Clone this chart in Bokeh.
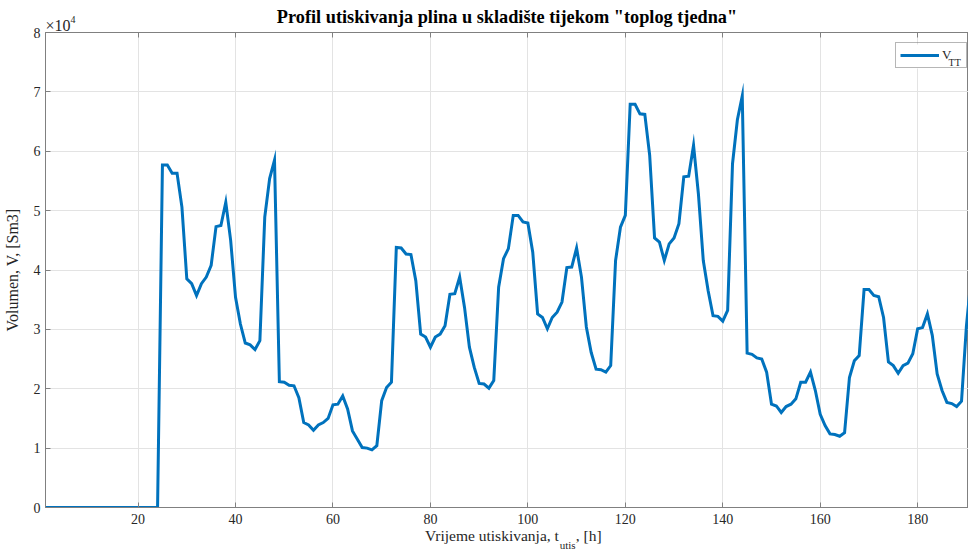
from bokeh.plotting import figure
from bokeh.models import (ColumnDataSource, FixedTicker, LinearAxis, Legend, LegendItem,
                          CustomJSTickFormatter, Range1d, BoxAnnotation)
from bokeh.core.properties import value
from bokeh.embed import file_html
from bokeh.resources import INLINE

# ---- data (hourly injection volume, Sm3) ----
hours = list(range(1, 192))
volume = [0] * 24 + [
    57700, 57700, 56300, 56300, 50600, 38500, 37700, 35700, 37700, 38800,   # 25-34
    40800, 47300, 47500, 51400, 45000, 35400, 30900, 27700, 27400, 26600,   # 35-44
    28100, 48900, 55400, 58500, 21200, 21100, 20600, 20500, 18500, 14300,   # 45-54
    13900, 13000, 13900, 14300, 15000, 17300, 17400, 18800, 16600, 12900,   # 55-64
    11500, 10100, 10000, 9700, 10400, 18000, 20200, 21100, 43800, 43700,    # 65-74
    42700, 42600, 38200, 29200, 28700, 27000, 28700, 29200, 30600, 35900,   # 75-84
    36000, 38800, 33700, 27000, 23600, 20900, 20800, 20100, 21400, 37100,   # 85-94
    41900, 43600, 49200, 49200, 48100, 47900, 43000, 32600, 32000, 30100,   # 95-104
    32000, 32900, 34600, 40400, 40500, 43700, 38800, 30400, 26100, 23300,   # 105-114
    23200, 22800, 23900, 41600, 47200, 49200, 67900, 67900, 66300, 66200,   # 115-124
    59300, 45400, 44700, 41600, 44400, 45400, 47800, 55700, 55800, 61000,   # 125-134
    52800, 41600, 36500, 32300, 32200, 31400, 33200, 57900, 65300, 69300,   # 135-144
    26000, 25800, 25200, 25000, 22800, 17400, 17100, 16000, 17000, 17400,   # 145-154
    18300, 21100, 21100, 22800, 19700, 15700, 13800, 12400, 12300, 12000,   # 155-164
    12600, 21900, 24700, 25600, 36700, 36700, 35700, 35500, 32000, 24500,   # 165-174
    23900, 22600, 23900, 24300, 25900, 30100, 30300, 32600, 29000, 22500,   # 175-184
    19700, 17700, 17500, 17000, 17900, 30500, 39000,                        # 185-191
]

x_ticks = [20, 40, 60, 80, 100, 120, 140, 160, 180]
y_ticks = [0, 10000, 20000, 30000, 40000, 50000, 60000, 70000, 80000]

title_text = 'Profil utiskivanja plina u skladište tijekom "toplog tjedna"'
series_name = "V"
series_sub = "TT"
ylabel_text = "Volumen, V, [Sm3]"
xlabel_main = "Vrijeme utiskivanja, t"
xlabel_sub = "utis"
xlabel_tail = ", [h]"
mult_base = "×10"
mult_exp = "4"

SERIF = "Liberation Serif"
AX = "#808080"
TXT = "#262626"

# ---- layout constants (page pixels) ----
W, H = 968, 551
FL, FT, FB = 43, 32, 44           # frame left / top / bottom borders
X0 = 1
PX_PER_H = 4.883
X1 = X0 + (W - FL) / PX_PER_H
Y0, Y1 = 0, 80000
PX_PER_V = (H - FB - FT) / (Y1 - Y0)


def px_to_h(px):
    return round(X0 + (px - FL) / PX_PER_H, 3)


def py_to_v(py):
    return Y0 + (H - FB - py) / PX_PER_V


src = ColumnDataSource(dict(t=hours, v=volume))

p = figure(width=W, height=H, output_backend="svg", toolbar_location=None,
           x_range=Range1d(X0, X1), y_range=Range1d(Y0, Y1),
           min_border_left=FL, min_border_right=0, min_border_top=FT,
           min_border_bottom=FB, title=title_text)
p.background_fill_color = "white"
p.border_fill_color = "white"
p.outline_line_color = AX
p.outline_line_width = 1

p.title.text_font = SERIF
p.title.text_font_size = "18.3px"
p.title.text_font_style = "bold"
p.title.text_color = "black"
p.title.align = "center"
p.title.vertical_align = "top"
p.title.standoff = 4

p.xgrid.grid_line_color = "#e3e3e3"
p.ygrid.grid_line_color = "#e3e3e3"
p.xgrid.ticker = FixedTicker(ticks=x_ticks)
p.ygrid.ticker = FixedTicker(ticks=y_ticks)

# white patch behind the legend (legend itself is transparent so the
# subscript text beneath it stays visible)
p.add_layout(BoxAnnotation(left=px_to_h(893), right=px_to_h(963),
                           top=py_to_v(44), bottom=py_to_v(68),
                           fill_color="white", fill_alpha=1, line_color=None,
                           level="underlay"))

r = p.line("t", "v", source=src, line_color="#0072BD", line_width=3, line_join="miter")

# axes
xa = p.xaxis[0]
xa.ticker = FixedTicker(ticks=x_ticks)
ya = p.yaxis[0]
ya.ticker = FixedTicker(ticks=y_ticks)
ya.formatter = CustomJSTickFormatter(code="return (tick/10000).toFixed(0);")
for ax in (xa, ya):
    ax.axis_line_color = AX
    ax.major_tick_line_color = AX
    ax.major_tick_in = 5
    ax.major_tick_out = 0
    ax.minor_tick_line_color = None
    ax.major_label_text_font = SERIF
    ax.major_label_text_font_size = "14px"
    ax.major_label_text_color = TXT
xa.major_label_standoff = 6
ya.major_label_standoff = 5
ya.axis_label = ylabel_text
ya.axis_label_text_font = SERIF
ya.axis_label_text_font_size = "16px"
ya.axis_label_text_font_style = "normal"
ya.axis_label_text_color = TXT
ya.axis_label_standoff = 10

top = LinearAxis(ticker=FixedTicker(ticks=x_ticks), axis_line_color=AX,
                 major_tick_line_color=AX, major_tick_in=5, major_tick_out=0,
                 minor_tick_line_color=None, major_label_standoff=0)
top.major_label_text_color = None
p.add_layout(top, "above")


def text_axis(side, pieces, size, standoff, pad):
    """an invisible axis whose tick labels carry text pieces; `pad` (an empty
    axis label with a negative standoff) trims the panel height"""
    ticks = [t for t, _ in pieces]
    ax = LinearAxis(ticker=FixedTicker(ticks=ticks),
                    major_label_overrides={t: s for t, s in pieces},
                    axis_line_color=None, major_tick_line_color=None,
                    minor_tick_line_color=None, major_tick_in=0, major_tick_out=0,
                    major_label_standoff=standoff, major_label_text_font=SERIF,
                    major_label_text_font_size=size, major_label_text_color=TXT)
    if pad is not None:
        ax.axis_label = " "
        ax.axis_label_text_font_size = "1px"
        ax.axis_label_standoff = pad
    p.add_layout(ax, side)


# x axis label with subscript:  "Vrijeme utiskivanja, t_utis, [h]"
text_axis("below", [(px_to_h(490.4), xlabel_main), (px_to_h(587.4), xlabel_tail)],
          "15.5px", 0, None)
text_axis("below", [(px_to_h(566.3), xlabel_sub)], "11px", -8, -8)
# multiplier x10^4 above the y axis
text_axis("above", [(px_to_h(55.5), mult_base)], "16px", -1, -21)
text_axis("above", [(px_to_h(70.5), mult_exp)], "10px", 8, -22)

# legend
leg = Legend(items=[LegendItem(label=series_name, renderers=[r])],
             location=(850, 439), padding=4, margin=0, spacing=0,
             glyph_width=39, glyph_height=14, label_standoff=3, label_width=20,
             label_text_font=SERIF, label_text_font_size="13px", label_text_color=TXT,
             border_line_color="#6e6e6e", border_line_width=1,
             background_fill_alpha=0)
p.add_layout(leg)
p.text(x=[px_to_h(948)], y=[py_to_v(62)], text=[series_sub], text_font=value(SERIF),
       text_font_size="10px", text_color=TXT, text_align="left",
       text_baseline="alphabetic")

open("out.html", "w").write(file_html(p, INLINE))
